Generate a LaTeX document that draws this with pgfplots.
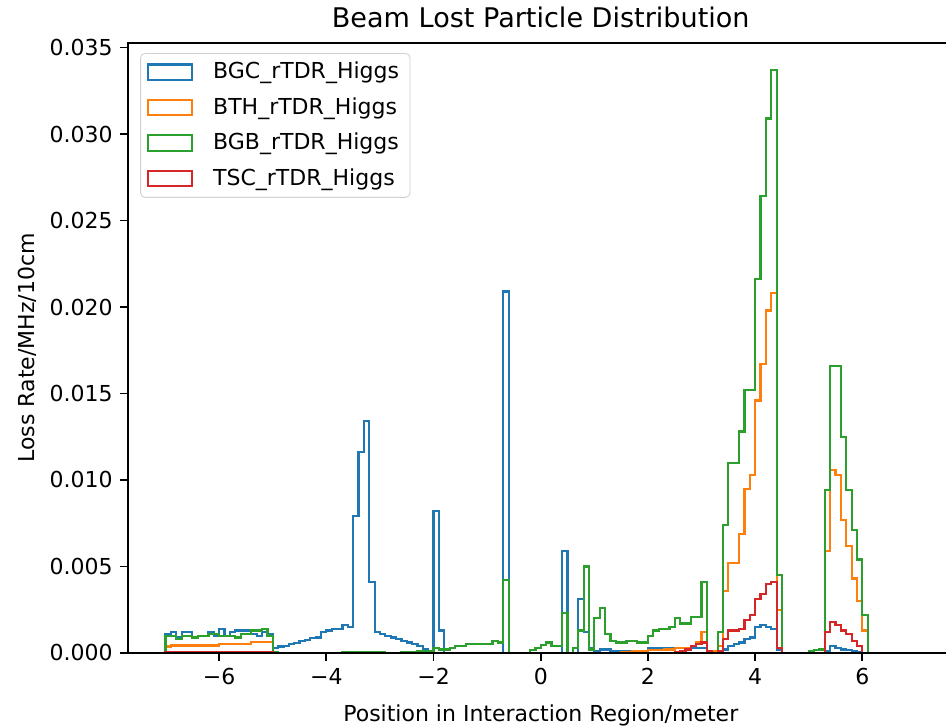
\documentclass[border=0pt]{standalone}
\usepackage{fontspec}
\setmainfont{DejaVu Sans}
\usepackage{pgfplots}
\usepackage{pgfplotstable}
\pgfplotsset{compat=1.18}
\definecolor{c0}{HTML}{1F77B4}
\definecolor{c1}{HTML}{FF7F0E}
\definecolor{c2}{HTML}{2CA02C}
\definecolor{c3}{HTML}{D62728}
% columns: bin left edge, BGC, BTH, BGB, TSC
\pgfplotstableread{
x C H B T
-7.0 0 0 0 0
-7.0 0.0011 0.00037 0.0010 0.00003
-6.9 0.0012 0.00043 0.0010 0.00003
-6.8 0.0009 0.00043 0.0008 0.00003
-6.7 0.0012 0.00043 0.0010 0.00003
-6.6 0.0012 0.00043 0.0010 0.00003
-6.5 0.0009 0.00043 0.0009 0.00003
-6.4 0.0010 0.00043 0.0010 0.00003
-6.3 0.0010 0.00043 0.0010 0.00003
-6.2 0.0012 0.00043 0.0011 0.00003
-6.1 0.0010 0.00043 0.0011 0.00003
-6.0 0.0014 0.0005 0.0010 0.00003
-5.9 0.0010 0.0005 0.0010 0.00003
-5.8 0.0012 0.0005 0.0010 0.00003
-5.7 0.0013 0.0005 0.0009 0.00003
-5.6 0.0013 0.0005 0.0011 0.00003
-5.5 0.0013 0.0005 0.0011 0.00003
-5.4 0.0011 0.00062 0.0013 0.00003
-5.3 0.0010 0.00062 0.0013 0.00003
-5.2 0.0012 0.00062 0.0014 0.00003
-5.1 0.0011 0.00062 0.0010 0.00003
-5.0 0.00027 0.00005 0.00003 0
-4.9 0.00037 0 0 0
-4.8 0.00042 0 0 0
-4.7 0.0005 0 0 0
-4.6 0.00056 0 0 0
-4.5 0.0007 0 0 0
-4.4 0.00075 0 0 0
-4.3 0.00085 0 0 0
-4.2 0.0009 0 0 0
-4.1 0.0012 0 0 0
-4.0 0.0013 0 0 0
-3.9 0.0014 0 0 0
-3.8 0.0014 0 0 0
-3.7 0.0016 0 0.00005 0
-3.6 0.0015 0 0.00005 0
-3.5 0.0079 0 0.00005 0
-3.4 0.0116 0 0.00005 0
-3.3 0.0134 0 0.00005 0
-3.2 0.0041 0 0.00005 0
-3.1 0.0012 0 0.00005 0
-3.0 0.0011 0 0.00003 0
-2.9 0.0010 0 0 0
-2.8 0.0009 0 0 0
-2.7 0.0008 0 0 0
-2.6 0.0007 0 0.00005 0
-2.5 0.0006 0 0.00005 0
-2.4 0.0005 0 0.00005 0
-2.3 0.0004 0 0.00008 0
-2.2 0.0002 0 0.0001 0
-2.1 0.0001 0 0.0001 0
-2.0 0.0082 0 0.0003 0
-1.9 0.0013 0 0.0002 0
-1.8 0 0 0.0002 0
-1.7 0 0 0.0003 0
-1.6 0 0 0.0004 0
-1.5 0 0 0.0004 0
-1.4 0 0 0.0005 0
-1.3 0 0 0.0005 0
-1.2 0 0 0.0005 0
-1.1 0 0 0.0005 0
-1.0 0 0 0.0005 0
-0.9 0 0 0.0007 0
-0.8 0 0 0.0006 0
-0.7 0.0209 0 0.0042 0
-0.6 0 0 0 0
-0.5 0 0 0 0
-0.4 0 0 0 0
-0.3 0 0 0 0
-0.2 0 0 0.00015 0
-0.1 0 0 0.0003 0
0.0 0 0 0.00045 0
0.1 0 0 0.0006 0
0.2 0 0 0.0004 0
0.3 0 0 0.0004 0
0.4 0.0059 0 0.0023 0
0.5 0 0 0 0
0.6 0 0 0.0003 0
0.7 0.0031 0 0.0013 0
0.8 0.0012 0 0.0050 0
0.9 0.0003 0 0.0002 0
1.0 0.0001 0 0.0020 0
1.1 0.0002 0 0.0026 0
1.2 0.0002 0 0.0011 0
1.3 0.0001 0 0.0007 0
1.4 0.0001 0 0.0006 0
1.5 0.0001 0.00005 0.0006 0
1.6 0.0001 0.00005 0.0007 0
1.7 0.0001 0.0001 0.0007 0
1.8 0.0001 0.0001 0.0006 0
1.9 0.0001 0.0001 0.0006 0
2.0 0.0003 0.00015 0.0010 0
2.1 0.0003 0.00015 0.0013 0
2.2 0.0003 0.00015 0.0014 0
2.3 0.0003 0.0002 0.0014 0
2.4 0.0003 0.0002 0.0015 0
2.5 0.0003 0.0003 0.0020 0.00005
2.6 0.0003 0.0003 0.0017 0.0001
2.7 0.0003 0.0003 0.0017 0.0002
2.8 0.0003 0.0004 0.0021 0.0004
2.9 0.0003 0.0006 0.0021 0.0005
3.0 0.0003 0.0012 0.0041 0.0006
3.1 0.0001 0.0001 0.0001 0.0001
3.2 0.0001 0.0001 0 0
3.3 0.0001 0.0004 0.0012 0.0001
3.4 0.0002 0.0036 0.0074 0.0008
3.5 0.0004 0.0052 0.0110 0.0013
3.6 0.0005 0.0052 0.0110 0.0013
3.7 0.0006 0.0069 0.0128 0.0014
3.8 0.0008 0.0095 0.0152 0.0019
3.9 0.0009 0.0103 0.0152 0.0022
4.0 0.0015 0.0146 0.0216 0.0031
4.1 0.0016 0.0167 0.0264 0.0034
4.2 0.0015 0.0198 0.0309 0.0040
4.3 0.0014 0.0208 0.0337 0.0041
4.4 0.0002 0.0025 0.0045 0.0003
4.5 0 0 0 0
4.6 0 0 0 0
4.7 0 0 0 0
4.8 0 0 0 0
4.9 0 0 0 0
5.0 0 0 0.0001 0
5.1 0 0 0.00015 0
5.2 0 0 0.0002 0
5.3 0.0001 0.0059 0.0094 0.0012
5.4 0.0004 0.0106 0.0166 0.0018
5.5 0.0003 0.0103 0.0166 0.0016
5.6 0.0002 0.0077 0.0125 0.0013
5.7 0.00015 0.0062 0.0094 0.0011
5.8 0.0001 0.0043 0.0071 0.0007
5.9 0.00005 0.0030 0.0054 0.0004
6.0 0 0.0013 0.0022 0
6.1 0 0.00002 0 0.00002
6.2 0 0.00002 0 0.00002
6.3 0 0.00002 0 0.00002
6.4 0 0.00002 0 0.00002
6.5 0 0.00002 0 0.00002
6.6 0 0.00002 0 0.00002
6.7 0 0.00002 0 0.00002
6.8 0 0.00002 0 0.00002
6.9 0 0.00002 0 0.00002
7.0 0 0 0 0
}\hist

\begin{document}
\begin{tikzpicture}
\begin{axis}[
  at={(0,0)}, anchor=south west,
  scale only axis, width=375.2pt, height=277.4pt,
  xmin=-7.7, xmax=7.7, ymin=0, ymax=0.03528,
  axis on top,
  axis line style={line width=0.8pt},
  tick align=outside, tick pos=left,
  major tick length=3.5pt,
  every tick/.style={black, line width=0.8pt},
  font=\fontsize{10}{12}\selectfont,
  tick label style={font=\fontsize{10}{12}\selectfont},
  xtick={-6,-4,-2,0,2,4,6},
  xticklabels={−6,−4,−2,0,2,4,6},
  ytick={0,0.005,0.01,0.015,0.02,0.025,0.03,0.035},
  scaled y ticks=false,
  /pgf/number format/assume math mode=true,
  yticklabel style={/pgf/number format/fixed, /pgf/number format/fixed zerofill, /pgf/number format/precision=3},
  xlabel={Position in Interaction Region/meter},
  xlabel style={yshift=-2pt},
  ylabel={Loss Rate/MHz/10cm},
  ylabel style={yshift=-1pt},
  title={Beam Lost Particle Distribution},
  title style={font=\fontsize{12.3}{14}\selectfont, yshift=-3pt},
  legend style={at={(0,1)}, anchor=north west, xshift=5.5pt, yshift=-4.7pt,
    draw=black!18, rounded corners=2pt, fill=white,
    font=\fontsize{10}{12}\selectfont, row sep=3pt,
    /tikz/every odd column/.append style={column sep=7pt}},
  legend cell align=left,
  legend image code/.code={\draw[#1, line width=1pt, sharp corners] (0pt,-3.5pt) rectangle (20pt,3.5pt);},
  every axis plot/.append style={line width=1pt, const plot},
]
\addplot[c0] table[x=x, y=C] {\hist};
\addlegendentry{BGC\_rTDR\_Higgs}
\addplot[c1] table[x=x, y=H] {\hist};
\addlegendentry{BTH\_rTDR\_Higgs}
\addplot[c2] table[x=x, y=B] {\hist};
\addlegendentry{BGB\_rTDR\_Higgs}
\addplot[c3] table[x=x, y=T] {\hist};
\addlegendentry{TSC\_rTDR\_Higgs}
\end{axis}
\pgfresetboundingbox
\useasboundingbox (-58.2pt,-33.6pt) rectangle (371.8pt,296.8pt);
\end{tikzpicture}
\end{document}
